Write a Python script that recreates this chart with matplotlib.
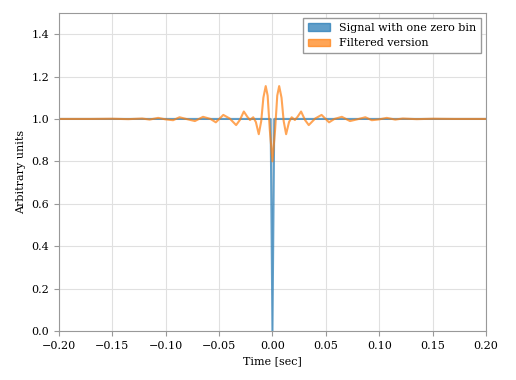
import matplotlib
matplotlib.use("Agg")
import matplotlib.pyplot as plt
from matplotlib.patches import Patch

# signal with a single zero sample at t=0
sig_t = [-0.20, -0.0017, 0.0, 0.0017, 0.20]
sig_y = [1.0, 1.0, 0.0, 1.0, 1.0]

# filtered version
filt_t = [
    -0.200, -0.170, -0.150, -0.135, -0.122, -0.115, -0.107, -0.100,
    -0.093, -0.087, -0.080, -0.0726, -0.065, -0.058, -0.053, -0.046,
    -0.040, -0.034, -0.0305, -0.0268, -0.0235, -0.021, -0.018, -0.0155,
    -0.0128, -0.0105, -0.0085, -0.0063, -0.0045, -0.0025, 0.0,
    0.0025, 0.0045, 0.0063, 0.0085, 0.0105, 0.0128, 0.0155, 0.018,
    0.021, 0.0235, 0.0268, 0.0305, 0.034, 0.040, 0.046, 0.053,
    0.058, 0.065, 0.0726, 0.080, 0.087, 0.093, 0.100, 0.107,
    0.115, 0.122, 0.135, 0.150, 0.170, 0.200,
]
filt_y = [
    1.000, 1.000, 1.001, 0.999, 1.002, 0.997, 1.005, 0.998,
    0.994, 1.008, 0.999, 0.990, 1.010, 1.000, 0.984, 1.019,
    1.002, 0.971, 0.995, 1.035, 1.010, 0.995, 1.008, 0.985,
    0.928, 0.990, 1.100, 1.155, 1.110, 0.950, 0.800,
    0.950, 1.110, 1.155, 1.100, 0.990, 0.928, 0.985, 1.008,
    0.995, 1.010, 1.035, 0.995, 0.971, 1.002, 1.019, 0.984,
    1.000, 1.010, 0.990, 0.999, 1.008, 0.994, 0.998, 1.005,
    0.997, 1.002, 0.999, 1.001, 1.000, 1.000,
]

xticks = [-0.20, -0.15, -0.10, -0.05, 0.00, 0.05, 0.10, 0.15, 0.20]
yticks = [0.0, 0.2, 0.4, 0.6, 0.8, 1.0, 1.2, 1.4]

plt.rcParams["font.family"] = ["DejaVu Serif"]
plt.rcParams["font.size"] = 8

fig = plt.figure(figsize=(5.16, 3.8), dpi=100)
ax = fig.add_axes([0.114, 0.129, 0.828, 0.837])

blue = "#1f77b4"
orange = "#ff7f0e"
ax.plot(sig_t, sig_y, color=blue, alpha=0.7, lw=1.5)
ax.plot(filt_t, filt_y, color=orange, alpha=0.7, lw=1.5)

ax.set_xlim(-0.2, 0.2)
ax.set_ylim(0, 1.5)
ax.set_xticks(xticks)
ax.set_yticks(yticks)
ax.set_xticklabels([f"{v:.2f}".replace("-", "\u2212") for v in xticks])
ax.set_yticklabels([f"{v:.1f}" for v in yticks])
ax.grid(True, color="#e0e0e0", lw=0.8)
ax.set_axisbelow(True)
for s in ax.spines.values():
    s.set_color("#999999")
ax.tick_params(color="#999999", length=3.5)

ax.set_xlabel("Time [sec]")
ax.set_ylabel("Arbitrary units")

handles = [
    Patch(color=blue, alpha=0.7, label="Signal with one zero bin"),
    Patch(color=orange, alpha=0.7, label="Filtered version"),
]
leg = ax.legend(handles=handles, loc="upper right", fancybox=False,
                framealpha=1.0, edgecolor="#999999")

fig.savefig("out.png", dpi=100)
